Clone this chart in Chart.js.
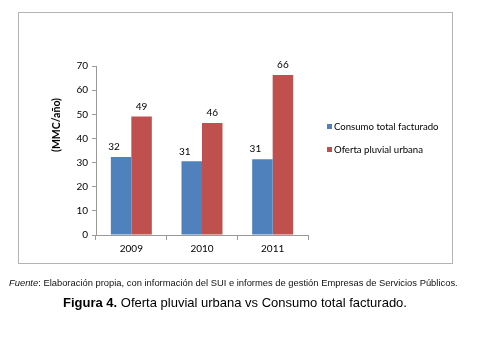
<!DOCTYPE html>
<html>
<head>
<meta charset="utf-8">
<script src="https://cdn.jsdelivr.net/npm/chart.js@4.4.0/dist/chart.umd.min.js"></script>
<style>
  body { margin: 0; background: #fff; width: 480px; height: 339px; position: relative; overflow: hidden; }
  .box { position: absolute; left: 18px; top: 12px; width: 433px; height: 250px; border: 1px solid #b4b4b4; }
  #wrap { position: absolute; left: 0; top: 0; width: 480px; height: 339px; }
  .ytitle { position: absolute; left: 56px; top: 125px; transform: translate(-50%, -50%) rotate(-90deg);
    font: bold 10.5px Lato, sans-serif; color: #000; white-space: nowrap; }
  .legend { position: absolute; left: 327px; top: 121px; font: 9.6px Lato, sans-serif; color: #000; }
  .legend div { height: 22.5px; white-space: nowrap; }
  .legend span { display: inline-block; width: 5px; height: 5px; margin-right: 2px; vertical-align: 1px; }
  .fuente { position: absolute; left: 9px; top: 277px; font: 9.4px "Liberation Sans", Arial, sans-serif; color: #111; white-space: nowrap; }
  .figura { position: absolute; left: 63px; top: 295px; font: 13px "Liberation Sans", Arial, sans-serif; color: #000; white-space: nowrap; }
</style>
</head>
<body>
<div class="box"></div>
<div id="wrap"><canvas id="chart1"></canvas></div>
<div class="ytitle">(MMC/año)</div>
<div class="legend" id="legend"></div>
<div class="fuente"><i>Fuente</i>: Elaboración propia, con información del SUI e informes de gestión Empresas de Servicios Públicos.</div>
<div class="figura"><b>Figura 4.</b> Oferta pluvial urbana vs Consumo total facturado.</div>
<script>
// data
const years = ['2009', '2010', '2011'];
const consumo = [32.3, 30.5, 31.4];
const oferta = [49.1, 46.4, 66.3];
const seriesNames = ['Consumo total facturado', 'Oferta pluvial urbana'];
const seriesColors = ['#4f81bd', '#c0504d'];
const yTicks = [0, 10, 20, 30, 40, 50, 60, 70];

//legend on the right, html
let legend = document.getElementById('legend');
for (let i = 0; i < seriesNames.length; i++) {
  legend.innerHTML += '<div><span style="background:' + seriesColors[i] + '"></span>' + seriesNames[i] + '</div>';
}

//labels over bars
const barLabels = {
  id: 'barLabels',
  afterDatasetsDraw(chart) {
    let ctx = chart.ctx;
    ctx.save();
    ctx.font = '10px Lato, sans-serif';
    ctx.fillStyle = '#000';
    ctx.textAlign = 'center';
    ctx.textBaseline = 'bottom';
    chart.data.datasets.forEach(function (ds, i) {
      chart.getDatasetMeta(i).data.forEach(function (bar, j) {
        let shift = i == 0 ? -7 : 0;
        ctx.fillText(Math.round(ds.data[j]), bar.x + shift, bar.y - 5);
      });
    });
    ctx.restore();
  }
};

let ctx = document.getElementById('chart1').getContext('2d');
let chart1 = new Chart(ctx, {
  type: 'bar',
  data: {
    labels: years,
    datasets: [{
      label: seriesNames[0],
      backgroundColor: seriesColors[0],
      data: consumo
    }, {
      label: seriesNames[1],
      backgroundColor: seriesColors[1],
      data: oferta
    }]
  },
  options: {
    responsive: true,
    maintainAspectRatio: false,
    animation: false,
    datasets: { bar: { categoryPercentage: 0.58, barPercentage: 1 } },
    layout: { padding: { left: 0, top: 66, right: 172, bottom: 84 } },
    scales: {
      x: {
        afterFit: function (s) { s.height = 20; },
        grid: { drawOnChartArea: false, tickLength: 5, color: '#999' },
        border: { color: '#999' },
        ticks: { padding: 3, color: '#000', font: { family: 'Lato', size: 10 } }
      },
      y: {
        min: 0,
        max: 70,
        afterFit: function (s) { s.width = 96; },
        afterBuildTicks: function (s) { s.ticks = yTicks.map(v => ({ value: v })); },
        grid: { drawOnChartArea: false, tickLength: 4, color: '#999' },
        border: { color: '#999' },
        ticks: { padding: 4, color: '#000', font: { family: 'Lato', size: 10 } }
      }
    },
    plugins: {
      legend: { display: false },
      tooltip: { enabled: false }
    }
  },
  plugins: [barLabels]
});
</script>
</body>
</html>
